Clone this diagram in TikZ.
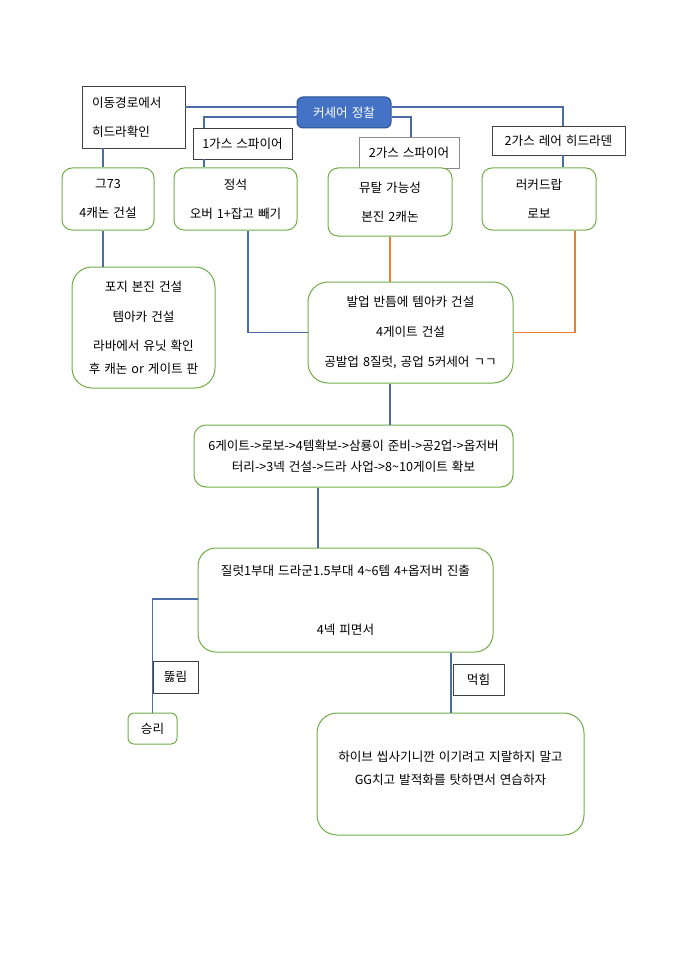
\documentclass[tikz,border=0pt]{standalone}
\usepackage{fontspec}
\setmainfont{Noto Sans CJK KR}[WordSpace=1.4]
\definecolor{linec}{HTML}{4A6DA8}
\definecolor{gbord}{HTML}{70AD47}
\definecolor{oline}{HTML}{ED7D31}
\definecolor{cfill}{HTML}{4472C4}
\definecolor{cbord}{HTML}{2F528F}
\newcommand\myfs[1]{\fontsize{12.6}{#1}\selectfont}
\tikzset{
  gbox/.style={draw=gbord, line width=1pt, fill=white, align=center, inner sep=0pt},
  lbox/.style={draw=black!75, line width=0.8pt, fill=white, align=center, inner sep=0pt},
  conn/.style={draw=linec, line width=1.8pt},
  oconn/.style={draw=oline, line width=1.8pt},
}
\begin{document}
\begin{tikzpicture}[x=1pt,y=-1pt]
\fill[white] (0,0) rectangle (679,960);
\useasboundingbox (0,0) rectangle (679,960);

% nodes
\node[lbox, minimum width=103pt, minimum height=62pt, text width=83pt, align=left, font=\myfs{29}] (hyd) at (133.5,117) {이동경로에서\\히드라확인};
\node[draw=cbord, fill=cfill, line width=1pt, rounded corners=6pt, text=white, minimum width=94pt, minimum height=31pt, inner sep=0pt, font=\myfs{14}] (cors) at (344,112.5) {커세어 정찰};
\node[lbox, minimum width=99pt, minimum height=31pt, font=\myfs{14}] (g1sp) at (242.5,143.5) {1가스 스파이어};
\node[lbox, draw=black!45, minimum width=100pt, minimum height=31pt, font=\myfs{14}] (g2sp) at (409,152.5) {2가스 스파이어};
\node[lbox, minimum width=133pt, minimum height=29pt, font=\myfs{14}] (g2lair) at (558.5,140.5) {2가스 레어 히드라덴};

\node[gbox, rounded corners=10pt, minimum width=92pt, minimum height=62pt, font=\myfs{29}] (g73) at (108,199) {그73\\4캐논 건설};
\node[gbox, rounded corners=10pt, minimum width=123pt, minimum height=62pt, font=\myfs{29}] (std) at (235.5,199) {정석\\오버 1+잡고 빼기};
\node[gbox, rounded corners=10pt, minimum width=124pt, minimum height=68pt, font=\myfs{29}] (mut) at (390,202) {뮤탈 가능성\\본진 2캐논};
\node[gbox, rounded corners=10pt, minimum width=114pt, minimum height=62pt, font=\myfs{29}] (lurk) at (539,199) {러커드랍\\로보};

\node[gbox, rounded corners=20pt, minimum width=143pt, minimum height=121pt, font=\myfs{23}] (forge) at (143.5,327.5) {포지 본진 건설\\[7pt]템아카 건설\\[6pt]라바에서 유닛 확인\\후 캐논 or 게이트 판};
\node[gbox, rounded corners=20pt, minimum width=205pt, minimum height=101pt, font=\myfs{30}] (leg) at (410.5,332.5) {발업 반틈에 템아카 건설\\4게이트 건설\\공발업 8질럿, 공업 5커세어 ㄱㄱ};

\node[gbox, rounded corners=12pt, minimum width=319pt, minimum height=62pt, font=\myfs{21}] (six) at (353.5,456) {6게이트->로보->4템확보->삼룡이 준비->공2업->옵저버\\터리->3넥 건설->드라 사업->8\textasciitilde10게이트 확보};
\node[gbox, rounded corners=18pt, minimum width=295pt, minimum height=104pt, font=\myfs{59}] (zeal) at (345.5,600) {질럿1부대 드라군1.5부대 4\textasciitilde6템 4+옵저버 진출\\4넥 피면서};

\node[gbox, rounded corners=6pt, minimum width=49pt, minimum height=31pt, font=\myfs{14}] (win) at (152.5,728.5) {승리};
\node[gbox, rounded corners=20pt, minimum width=267pt, minimum height=122pt, text depth=12pt, font=\myfs{23}] (lose) at (450.5,774) {하이브 씹사기니깐 이기려고 지랄하지 말고\\GG치고 발적화를 탓하면서 연습하자};

% connectors
\draw[conn] ([yshift=10pt]hyd.east) -- ([yshift=10pt]hyd.east -| cors.west);
\draw[conn] ([yshift=5.5pt]cors.east) -| ([xshift=4.5pt]g2lair.north);
\draw[conn] ([xshift=4.5pt]g2lair.south) -- ([xshift=4.5pt]g2lair.south |- lurk.north);
\draw[conn] ([yshift=-4.5pt]cors.west) -| ([xshift=-38.5pt]g1sp.north);
\draw[conn] ([xshift=-38.5pt]g1sp.south) -- ([xshift=-38.5pt]g1sp.south |- std.north);
\draw[conn] ([yshift=-4.5pt]cors.east) -| ([xshift=2pt]g2sp.north);
\draw[conn] ([xshift=-30.5pt]hyd.south) -- ([xshift=-30.5pt]hyd.south |- g73.north);
\draw[conn] ([xshift=-5pt]g73.south) -- ([xshift=-5pt]g73.south |- forge.north);
\draw[conn] ([xshift=12.5pt]std.south) |- (leg.west);
\draw[oconn] (mut.south) -- (mut.south |- leg.north);
\draw[oconn] ([xshift=36pt]lurk.south) |- (leg.east);
\draw[conn] ([xshift=-20.5pt]leg.south) -- ([xshift=-20.5pt]leg.south |- six.north);
\draw[conn] ([xshift=-35.5pt]six.south) -- ([xshift=-35.5pt]six.south |- zeal.north);
\draw[conn] ([yshift=1pt]zeal.west) -| (win.north);
\draw[conn] ([xshift=105.5pt]zeal.south) -- ([xshift=105.5pt]zeal.south |- lose.north);

% branch labels
\node[lbox, minimum width=45pt, minimum height=32pt, font=\myfs{14}] (brk) at (175.5,677) {뚫림};
\node[lbox, minimum width=51pt, minimum height=31pt, font=\myfs{14}] (eat) at (478.5,679.5) {먹힘};
\end{tikzpicture}
\end{document}
